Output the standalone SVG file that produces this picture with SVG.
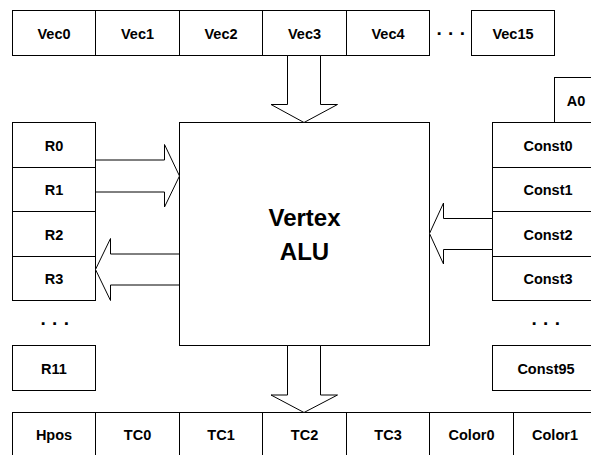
<svg xmlns="http://www.w3.org/2000/svg" width="591" height="455" viewBox="0 0 591 455">
<style>
.b{fill:#fff;stroke:#000;stroke-width:1}
.t{font-family:"Liberation Sans",Arial,sans-serif;font-weight:bold;font-size:14.5px;text-anchor:middle;fill:#000}
.big{font-size:24px}
.dots{font-size:19px;letter-spacing:0.5px}
.a{fill:#fff;stroke:#000;stroke-width:1;stroke-linejoin:miter}
</style>
<rect width="591" height="455" fill="#fff"/>
<g id="vec0"><rect class="b" x="12.5" y="10.5" width="83" height="45"/><text class="t" x="54" y="38.5">Vec0</text></g>
<g id="vec1"><rect class="b" x="95.5" y="10.5" width="84" height="45"/><text class="t" x="137.5" y="38.5">Vec1</text></g>
<g id="vec2"><rect class="b" x="179.5" y="10.5" width="83" height="45"/><text class="t" x="221" y="38.5">Vec2</text></g>
<g id="vec3"><rect class="b" x="262.5" y="10.5" width="84" height="45"/><text class="t" x="304.5" y="38.5">Vec3</text></g>
<g id="vec4"><rect class="b" x="346.5" y="10.5" width="83" height="45"/><text class="t" x="388" y="38.5">Vec4</text></g>
<g id="vecdots"><text class="t dots" x="451" y="35">. . .</text></g>
<g id="vec15"><rect class="b" x="471.5" y="10.5" width="83" height="45"/><text class="t" x="513" y="38.5">Vec15</text></g>

<g id="alu"><rect class="b" x="179.5" y="122.5" width="250" height="223"/><text class="t big" x="304.5" y="226">Vertex</text><text class="t big" x="304.5" y="260">ALU</text></g>

<g id="r0"><rect class="b" x="12.5" y="122.5" width="83" height="45"/><text class="t" x="54" y="150.5">R0</text></g>
<g id="r1"><rect class="b" x="12.5" y="167.5" width="83" height="44"/><text class="t" x="54" y="195">R1</text></g>
<g id="r2"><rect class="b" x="12.5" y="211.5" width="83" height="45"/><text class="t" x="54" y="239.5">R2</text></g>
<g id="r3"><rect class="b" x="12.5" y="256.5" width="83" height="44"/><text class="t" x="54" y="284">R3</text></g>
<g id="rdots"><text class="t dots" x="55" y="325">. . .</text></g>
<g id="r11"><rect class="b" x="12.5" y="345.5" width="83" height="45"/><text class="t" x="54" y="373.5">R11</text></g>

<g id="a0"><rect class="b" x="554.5" y="77.5" width="43" height="45"/><text class="t" x="576" y="105.5">A0</text></g>
<g id="const0"><rect class="b" x="492.5" y="122.5" width="114" height="45"/><text class="t" x="548" y="150.5">Const0</text></g>
<g id="const1"><rect class="b" x="492.5" y="167.5" width="114" height="44"/><text class="t" x="548" y="195">Const1</text></g>
<g id="const2"><rect class="b" x="492.5" y="211.5" width="114" height="45"/><text class="t" x="548" y="239.5">Const2</text></g>
<g id="const3"><rect class="b" x="492.5" y="256.5" width="114" height="44"/><text class="t" x="548" y="284">Const3</text></g>
<g id="constdots"><text class="t dots" x="546" y="325">. . .</text></g>
<g id="const95"><rect class="b" x="492.5" y="345.5" width="114" height="45"/><text class="t" x="546" y="373.5">Const95</text></g>

<g id="hpos"><rect class="b" x="12.5" y="412.5" width="83" height="50"/><text class="t" x="54" y="440">Hpos</text></g>
<g id="tc0"><rect class="b" x="95.5" y="412.5" width="84" height="50"/><text class="t" x="137.5" y="440">TC0</text></g>
<g id="tc1"><rect class="b" x="179.5" y="412.5" width="83" height="50"/><text class="t" x="221" y="440">TC1</text></g>
<g id="tc2"><rect class="b" x="262.5" y="412.5" width="84" height="50"/><text class="t" x="304.5" y="440">TC2</text></g>
<g id="tc3"><rect class="b" x="346.5" y="412.5" width="83" height="50"/><text class="t" x="388" y="440">TC3</text></g>
<g id="color0"><rect class="b" x="429.5" y="412.5" width="84" height="50"/><text class="t" x="471.5" y="440">Color0</text></g>
<g id="color1"><rect class="b" x="513.5" y="412.5" width="83" height="50"/><text class="t" x="555" y="440">Color1</text></g>

<g id="connectors">
<polygon class="a" points="287.5,55.5 287.5,104.5 271,104.5 304,122.5 337.5,104.5 320.5,104.5 320.5,55.5"/>
<polygon class="a" points="287.5,345.5 287.5,395 271,395 304,412.5 337.5,395 320.5,395 320.5,345.5"/>
<polygon class="a" points="95.5,160 164.5,160 164.5,144.5 179.5,176 164.5,207 164.5,192 95.5,192"/>
<polygon class="a" points="179.5,254 110.5,254 110.5,238.5 95.5,269.5 110.5,300.5 110.5,285 179.5,285"/>
<polygon class="a" points="492.5,218.5 443.5,218.5 443.5,203 429.5,233.5 443.5,264 443.5,249.5 492.5,249.5"/>
</g>
</svg>
